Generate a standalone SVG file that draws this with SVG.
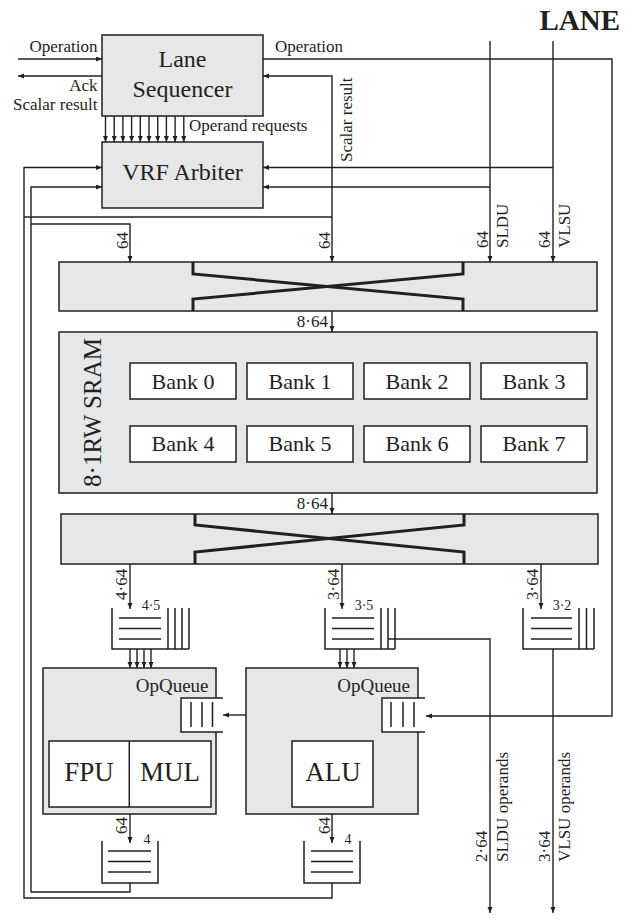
<svg xmlns="http://www.w3.org/2000/svg" width="642" height="920" viewBox="0 0 642 920">
<defs>
<marker id="ah" markerUnits="userSpaceOnUse" markerWidth="7" markerHeight="6" refX="6" refY="2.5" orient="auto">
<path d="M0,0 L6,2.5 L0,5 z" fill="#231f20"/>
</marker>
<style>
.box{fill:#e6e7e8;stroke:#231f20;stroke-width:1.5}
.wbox{fill:#fff;stroke:#231f20;stroke-width:1.5}
.ln{fill:none;stroke:#231f20;stroke-width:1.4}
.ar{fill:none;stroke:#231f20;stroke-width:1.4;marker-end:url(#ah)}
.x{fill:none;stroke:#231f20;stroke-width:3}
.q{fill:none;stroke:#231f20;stroke-width:1.5}
text{font-family:"Liberation Serif","Times New Roman",serif;fill:#231f20}
.s{font-size:17px}
.t{font-size:14px}
.m{font-size:24px;text-anchor:middle}
.b{font-size:22px;text-anchor:middle}
.u{font-size:27px;text-anchor:middle}
.oq{font-size:19px;text-anchor:end}
</style>
</defs>
<rect width="642" height="920" fill="#fff"/>
<text x="620" y="30" font-size="29" font-weight="bold" text-anchor="end">LANE</text>

<g id="connectors">
<path class="ar" d="M18,59 H102"/>
<path class="ar" d="M102,76 H18"/>
<path class="ar" d="M263,59 H612 V716 H426"/>
<path class="ln" d="M24,217 H332"/>
<path class="ar" d="M332,217 V76 H263"/>
<path class="ar" d="M332,217 V262"/>
<path class="ar" d="M332,883 V898 H24 V167.5 H102"/>
<path class="ar" d="M130,883 V892 H31 V187 H102"/>
<path class="ar" d="M31,224 H130 V262"/>
<path class="ar" d="M553,41 V262"/>
<path class="ar" d="M553,167.5 H263"/>
<path class="ar" d="M490,41 V262"/>
<path class="ar" d="M490,187 H263"/>
<path class="ar" d="M105.5,116 V142"/>
<path class="ar" d="M114.2,116 V142"/>
<path class="ar" d="M122.9,116 V142"/>
<path class="ar" d="M131.6,116 V142"/>
<path class="ar" d="M140.3,116 V142"/>
<path class="ar" d="M149,116 V142"/>
<path class="ar" d="M157.7,116 V142"/>
<path class="ar" d="M166.4,116 V142"/>
<path class="ar" d="M175.1,116 V142"/>
<path class="ar" d="M183.8,116 V142"/>
<path class="ar" d="M332,311 V332"/>
<path class="ar" d="M332,493 V514"/>
<path class="ar" d="M130,564 V609"/>
<path class="ar" d="M342,564 V609"/>
<path class="ar" d="M541,564 V609"/>
<path class="ar" d="M130,649 V668"/>
<path class="ar" d="M137,649 V668"/>
<path class="ar" d="M144,649 V668"/>
<path class="ar" d="M151,649 V668"/>
<path class="ar" d="M340,649 V668"/>
<path class="ar" d="M347,649 V668"/>
<path class="ar" d="M354,649 V668"/>
<path class="ar" d="M388,639 H490 V913"/>
<path class="ar" d="M553,649 V913"/>
<path class="ar" d="M246,715 H223"/>
<path class="ar" d="M130,814 V843"/>
<path class="ar" d="M332,814 V843"/>
</g>

<g id="connector-labels">
<text class="s" x="97.5" y="52" text-anchor="end">Operation</text>
<text class="s" x="97.5" y="90.5" text-anchor="end">Ack</text>
<text class="s" x="97.5" y="109.5" text-anchor="end">Scalar result</text>
<text class="s" x="275" y="52">Operation</text>
<text class="s" x="189" y="131">Operand requests</text>
<text class="s" transform="translate(352,162) rotate(-90)">Scalar result</text>
<text class="s" transform="translate(127.5,249) rotate(-90)">64</text>
<text class="s" transform="translate(330,249) rotate(-90)">64</text>
<text class="s" transform="translate(487.5,248) rotate(-90)">64</text>
<text class="s" transform="translate(508,248) rotate(-90)">SLDU</text>
<text class="s" transform="translate(550,248) rotate(-90)">64</text>
<text class="s" transform="translate(570,248) rotate(-90)">VLSU</text>
<text class="s" x="328" y="327" text-anchor="end">8·64</text>
<text class="s" x="328" y="509" text-anchor="end">8·64</text>
<text class="s" transform="translate(127,600) rotate(-90)">4·64</text>
<text class="s" transform="translate(338.5,600) rotate(-90)">3·64</text>
<text class="s" transform="translate(538,600) rotate(-90)">3·64</text>
<text class="s" transform="translate(127,834) rotate(-90)">64</text>
<text class="s" transform="translate(330,834) rotate(-90)">64</text>
<text class="s" transform="translate(487,862) rotate(-90)">2·64</text>
<text class="s" transform="translate(508,862) rotate(-90)">SLDU operands</text>
<text class="s" transform="translate(550,862) rotate(-90)">3·64</text>
<text class="s" transform="translate(570,862) rotate(-90)">VLSU operands</text>
</g>

<g id="lane-sequencer">
<rect class="box" x="102" y="35" width="161" height="81"/>
<text class="m" x="182.5" y="66.5">Lane</text>
<text class="m" x="182.5" y="96.5">Sequencer</text>
</g>

<g id="vrf-arbiter">
<rect class="box" x="102" y="142" width="161" height="66"/>
<text class="m" x="182.5" y="180">VRF Arbiter</text>
</g>

<g id="crossbar-in">
<rect class="box" x="59" y="262" width="538" height="49"/>
<path class="x" d="M193,262 V274 L463,299 V311"/>
<path class="x" d="M193,311 V299 L463,274 V262"/>
</g>

<g id="sram">
<rect class="box" x="59" y="332" width="538" height="161"/>
<text font-size="25" text-anchor="middle" transform="translate(101,412.5) rotate(-90)">8·1RW SRAM</text>
<g id="bank0"><rect class="wbox" x="130" y="363" width="106" height="36"/><text class="b" x="183" y="388.5">Bank 0</text></g>
<g id="bank1"><rect class="wbox" x="247" y="363" width="106" height="36"/><text class="b" x="300" y="388.5">Bank 1</text></g>
<g id="bank2"><rect class="wbox" x="364" y="363" width="106" height="36"/><text class="b" x="417" y="388.5">Bank 2</text></g>
<g id="bank3"><rect class="wbox" x="481" y="363" width="106" height="36"/><text class="b" x="534" y="388.5">Bank 3</text></g>
<g id="bank4"><rect class="wbox" x="130" y="426" width="106" height="36"/><text class="b" x="183" y="451">Bank 4</text></g>
<g id="bank5"><rect class="wbox" x="247" y="426" width="106" height="36"/><text class="b" x="300" y="451">Bank 5</text></g>
<g id="bank6"><rect class="wbox" x="364" y="426" width="106" height="36"/><text class="b" x="417" y="451">Bank 6</text></g>
<g id="bank7"><rect class="wbox" x="481" y="426" width="106" height="36"/><text class="b" x="534" y="451">Bank 7</text></g>
</g>

<g id="crossbar-out">
<rect class="box" x="61" y="514" width="537" height="50"/>
<path class="x" d="M195,514 V525 L464,552 V564"/>
<path class="x" d="M195,564 V552 L464,525 V514"/>
</g>

<g id="queue-fpu-operands">
<path class="q" d="M112,608 V649 H189 M168,608 V649 M175,608 V649 M182,608 V649 M189,608 V649 M119,618 H161 M119,628.5 H161 M119,639 H161"/>
<text class="t" x="151" y="610" text-anchor="middle">4·5</text>
</g>

<g id="queue-alu-operands">
<path class="q" d="M325,608 V649 H395 M381,608 V649 M388,608 V649 M395,608 V649 M332,618 H374 M332,628.5 H374 M332,639 H374"/>
<text class="t" x="364" y="610" text-anchor="middle">3·5</text>
</g>

<g id="queue-vlsu-operands">
<path class="q" d="M523,608 V649 H594 M579,608 V649 M586.5,608 V649 M594,608 V649 M531,618 H572 M531,628.5 H572 M531,639 H572"/>
<text class="t" x="562" y="610" text-anchor="middle">3·2</text>
</g>

<g id="fpu-mul-unit">
<rect class="box" x="43" y="668" width="173" height="146"/>
<text class="oq" x="208.5" y="692">OpQueue</text>
<rect x="181" y="698" width="42" height="34" fill="#fff"/>
<path class="q" d="M223,698 H181 V732 H223 M191,702 V727 M202,702 V727 M212.5,702 V727"/>
<rect class="wbox" x="49" y="741" width="162" height="66"/>
<path class="q" d="M129.3,741 V807"/>
<text class="u" x="89" y="780.5">FPU</text>
<text class="u" x="170" y="780.5">MUL</text>
</g>

<g id="alu-unit">
<rect class="box" x="246" y="668" width="172" height="146"/>
<text class="oq" x="410" y="692">OpQueue</text>
<rect x="382" y="698" width="43" height="34" fill="#fff"/>
<path class="q" d="M425,698 H382 V732 H425 M391,702 V727 M403,702 V727 M414,702 V727"/>
<rect class="wbox" x="292" y="741" width="81" height="66"/>
<text class="u" x="333" y="780.5">ALU</text>
</g>

<g id="queue-fpu-result">
<path class="q" d="M102,841 V883 H158 V841 M108,851 H151 M108,861.5 H151 M108,872 H151"/>
<text class="t" x="147" y="844" text-anchor="middle">4</text>
</g>

<g id="queue-alu-result">
<path class="q" d="M304,841 V883 H360 V841 M311,851 H353 M311,861.5 H353 M311,872 H353"/>
<text class="t" x="348" y="844" text-anchor="middle">4</text>
</g>
</svg>
